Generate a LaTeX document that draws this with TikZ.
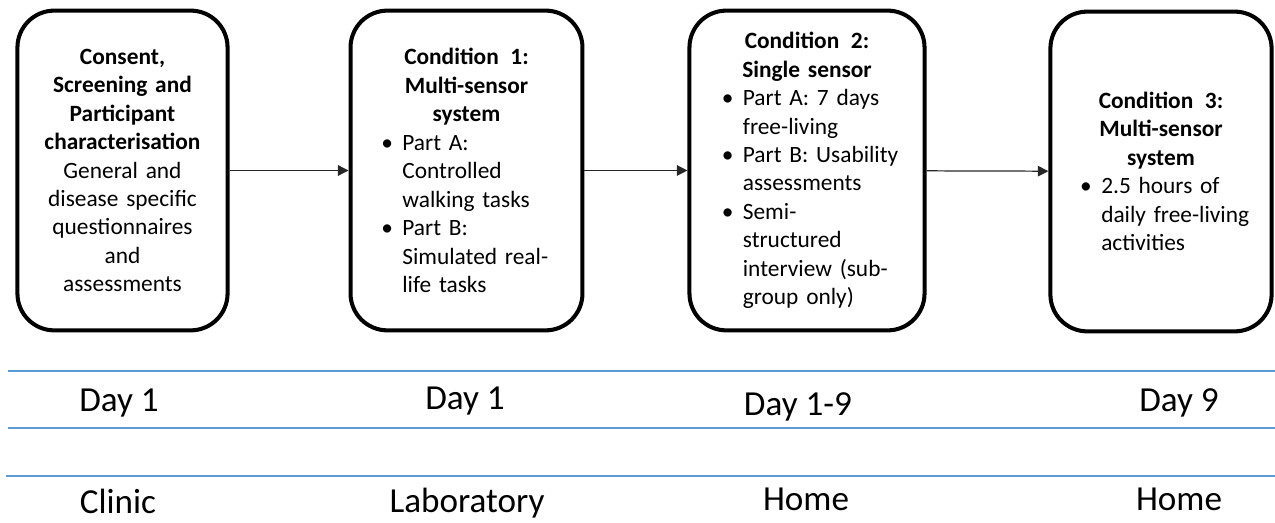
\documentclass[tikz,border=0pt]{standalone}
\usepackage{fontspec}
\setmainfont{Carlito}
\usetikzlibrary{arrows.meta}
\definecolor{rulecol}{HTML}{5B9BD5}
\newcommand{\bitem}[1]{\par\noindent\hangindent=17pt\hangafter=1\hspace*{5pt}\makebox[12pt][l]{\textbullet}#1\par}

\begin{document}
\begin{tikzpicture}[x=0.02cm, y=-0.02cm,
  stage/.style={draw, line width=2.3pt, rounded corners=21pt, minimum width=#1, minimum height=182pt,
    inner sep=0pt, font=\fontsize{13.3}{16.2}\selectfont},
  flow/.style={-{Triangle[length=6pt,width=6pt]}, line width=0.7pt, black!85},
  tabrule/.style={rulecol, line width=0.9pt},
  lbl/.style={anchor=base, inner sep=0pt, font=\fontsize{20}{24}\selectfont}]
  \useasboundingbox (0,0) rectangle (1275,523);
  \node[stage=119.6pt, align=center, text width=102pt] (consent) at (122.5,170.5)
    {{\bfseries Consent,\\Screening and\\Participant\\characterisation\\}General and\\disease specific\\questionnaires\\and\\assessments};
  \node[stage=132pt, text width=107pt] (cond1) at (466.5,170.5)
    {{\centering\bfseries Condition\ \,1:\\Multi-sensor\\system\par}
     \bitem{Part A:\newline Controlled\newline walking tasks}
     \bitem{Part B:\newline Simulated real-\newline life tasks}};
  \node[stage=133.8pt, text width=107pt] (cond2) at (807,170.5)
    {{\centering\bfseries Condition\ \,2:\\Single sensor\par}
     \bitem{Part A: 7 days\newline free-living}
     \bitem{Part B: Usability\newline assessments}
     \bitem{Semi-\newline structured\newline interview (sub-\newline group only)}};
  \node[stage=125.9pt, text width=102pt] (cond3) at (1161,171.5)
    {{\centering\bfseries Condition\ \,3:\\Multi-sensor\\system\par}
     \bitem{2.5 hours of\newline daily free-living\newline activities}};
  \draw[flow] (consent) -- (cond1);
  \draw[flow] (cond1) -- (cond2);
  \draw[flow] (cond2) -- (cond3);
  \draw[tabrule] (8,371) -- (1275,371);
  \draw[tabrule] (8,428) -- (1275,428);
  \draw[tabrule] (6,476) -- (1275,476);
  \node[lbl] (day1) at (119,412) {Day 1};
  \node[lbl] (day2) at (465,410) {Day 1};
  \node[lbl] (day3) at (798,416) {Day 1-9};
  \node[lbl] (day4) at (1179,412) {Day 9};
  \node[lbl] (place1) at (118,514) {Clinic};
  \node[lbl] (place2) at (467,513) {Laboratory};
  \node[lbl] (place3) at (806,511) {Home};
  \node[lbl] (place4) at (1179,511) {Home};
\end{tikzpicture}
\end{document}
